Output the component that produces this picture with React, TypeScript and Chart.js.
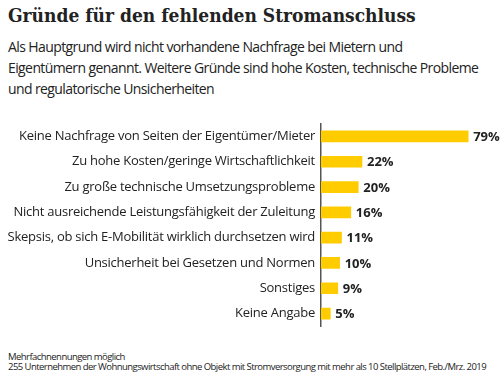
import React, { useEffect, useRef } from "react";
import { Chart, registerables } from "chart.js";

Chart.register(...registerables);

const title = "Gründe für den fehlenden Stromanschluss";
const subtitleLines = [
  "Als Hauptgrund wird nicht vorhandene Nachfrage bei Mietern und",
  "Eigentümern genannt. Weitere Gründe sind hohe Kosten, technische Probleme",
  "und regulatorische Unsicherheiten",
];
const categories = [
  "Keine Nachfrage von Seiten der Eigentümer/Mieter",
  "Zu hohe Kosten/geringe Wirtschaftlichkeit",
  "Zu große technische Umsetzungsprobleme",
  "Nicht ausreichende Leistungsfähigkeit der Zuleitung",
  "Skepsis, ob sich E-Mobilität wirklich durchsetzen wird",
  "Unsicherheit bei Gesetzen und Normen",
  "Sonstiges",
  "Keine Angabe",
];
const values = [79, 22, 20, 16, 11, 10, 9, 5];
const footnotes = [
  "Mehrfachnennungen möglich",
  "255 Unternehmen der Wohnungswirtschaft ohne Objekt mit Stromversorgung mit mehr als 10 Stellplätzen, Feb./Mrz. 2019",
];

const SANS = "'Open Sans', 'Noto Sans', sans-serif";

export default function App() {
  const ref = useRef<HTMLCanvasElement | null>(null);

  useEffect(() => {
    if (!ref.current) return;
    const spacing = {
      id: "spacing",
      beforeDraw(chart: any) {
        chart.ctx.letterSpacing = "-0.25px";
      },
    };
    const valueLabels = {
      id: "valueLabels",
      afterDatasetsDraw(chart: any) {
        const ctx = chart.ctx;
        const meta = chart.getDatasetMeta(0);
        ctx.save();
        ctx.letterSpacing = "0px";
        ctx.font = `bold 13px ${SANS}`;
        ctx.fillStyle = "#222";
        ctx.textAlign = "left";
        ctx.textBaseline = "middle";
        meta.data.forEach((bar: any, i: number) => {
          ctx.fillText(values[i] + "%", bar.x + 5, bar.y + 1);
        });
        ctx.restore();
      },
    };
    const chart = new Chart(ref.current, {
      type: "bar",
      data: {
        labels: categories,
        datasets: [
          {
            data: values,
            backgroundColor: "#FFCC00",
            barThickness: 11,
          },
        ],
      },
      options: {
        indexAxis: "y",
        animation: false,
        responsive: false,
        maintainAspectRatio: false,
        layout: { padding: { top: 12, bottom: 10, left: 0, right: 3 } },
        plugins: {
          legend: { display: false },
          tooltip: { enabled: false },
        },
        scales: {
          x: {
            display: false,
            min: 0,
            max: 95,
          },
          y: {
            afterFit(scale: any) {
              scale.width = 321;
            },
            grid: { display: false, drawTicks: false },
            border: { display: true, color: "#555", width: 1.5 },
            ticks: {
              color: "#222",
              padding: 6,
              font: { family: SANS, size: 13 },
            },
          },
        },
      },
      plugins: [spacing, valueLabels],
    });
    return () => chart.destroy();
  }, []);

  return (
    <div
      style={{
        position: "fixed",
        left: 0,
        top: 0,
        width: 501,
        height: 376,
        background: "#fff",
        overflow: "hidden",
      }}
    >
      <div
        style={{
          position: "absolute",
          left: 8,
          top: 4,
          fontFamily: "'DejaVu Serif Condensed', 'DejaVu Serif', serif",
          fontWeight: "bold",
          fontSize: 19,
          color: "#222",
          whiteSpace: "nowrap",
        }}
      >
        {title}
      </div>
      <div
        style={{
          position: "absolute",
          left: 8,
          top: 36,
          fontFamily: SANS,
          fontSize: 14,
          letterSpacing: "-0.6px",
          lineHeight: "21px",
          color: "#222",
          whiteSpace: "nowrap",
        }}
      >
        {subtitleLines.map((l, i) => (
          <div key={i}>{l}</div>
        ))}
      </div>
      <canvas
        ref={ref}
        width={501}
        height={230}
        style={{ position: "absolute", left: 0, top: 110, width: 501, height: 230 }}
      />
      <div
        style={{
          position: "absolute",
          left: 8,
          top: 352,
          fontFamily: SANS,
          fontSize: 9.5,
          letterSpacing: "-0.55px",
          lineHeight: "9.5px",
          color: "#222",
          whiteSpace: "nowrap",
        }}
      >
        {footnotes.map((l, i) => (
          <div key={i}>{l}</div>
        ))}
      </div>
    </div>
  );
}
